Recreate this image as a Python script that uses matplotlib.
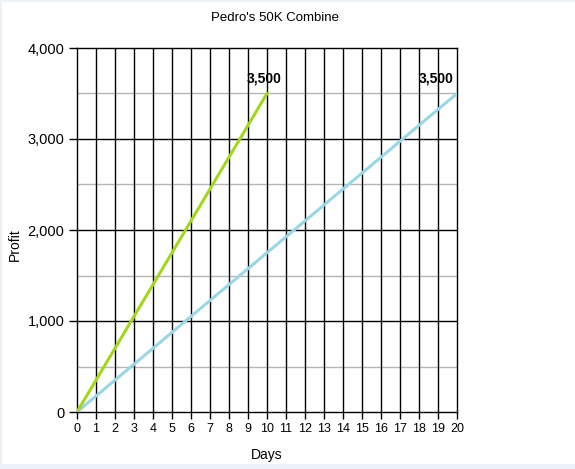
import matplotlib.pyplot as plt
from matplotlib.patches import Rectangle
from matplotlib.ticker import FuncFormatter

plt.rcParams['font.family'] = ['Liberation Sans', 'DejaVu Sans']

fast_days = [0, 1, 2, 3, 4, 5, 6, 7, 8, 9, 10]
fast_profit = [0, 350, 700, 1050, 1400, 1750, 2100, 2450, 2800, 3150, 3500]
slow_days = list(range(0, 21))
slow_profit = [0, 175, 350, 525, 700, 875, 1050, 1225, 1400, 1575, 1750,
               1925, 2100, 2275, 2450, 2625, 2800, 2975, 3150, 3325, 3500]

fig = plt.figure(figsize=(5.75, 4.69), dpi=100)
fig.patch.set_facecolor('#edf2f9')
fig.patches.append(Rectangle((2 / 575, 5 / 469), 1, 1 - 7 / 469,
                             transform=fig.transFigure, facecolor='white',
                             edgecolor='none', zorder=-5))

ax = fig.add_axes([77 / 575, 57 / 469, 380 / 575, 364 / 469])
ax.set_zorder(2)
ax.set_xlim(0, 20)
ax.set_ylim(0, 4000)

for y in [500, 1500, 2500, 3500]:
    ax.axhline(y, color='#b5b5b5', lw=1, zorder=1)
for y in [1000, 2000, 3000]:
    ax.axhline(y, color='black', lw=1, zorder=1)
for x in range(1, 20):
    ax.axvline(x, color='black', lw=1, zorder=1)

ax.plot(slow_days, slow_profit, color='#9bd6e7', lw=2.2, zorder=3)
ax.plot(fast_days, fast_profit, color='#a2d71c', lw=2.2, zorder=4)

ax.annotate('3,500', (fast_days[-1], fast_profit[-1]), xytext=(-2, 6),
            textcoords='offset points', ha='center', va='bottom',
            fontsize=10, fontweight='bold')
ax.annotate('3,500', (slow_days[-1], slow_profit[-1]), xytext=(-15, 6),
            textcoords='offset points', ha='center', va='bottom',
            fontsize=10, fontweight='bold')

for s in ax.spines.values():
    s.set_color('black')
    s.set_linewidth(1)

ax.set_xticks(range(0, 21))
ax.set_yticks([0, 1000, 2000, 3000, 4000])
ax.yaxis.set_major_formatter(FuncFormatter(lambda v, p: f'{int(v):,}'))
ax.tick_params(axis='y', length=6, width=1, labelsize=10.5, pad=3)
ax.tick_params(axis='x', length=5, width=1, labelsize=9, pad=3)

ax.set_xlabel('Days', fontsize=10, labelpad=9)
ax.set_ylabel('Profit', fontsize=10)
ax.yaxis.set_label_coords(-0.145, 0.46)
fig.text(275 / 575, 1 - 18 / 469, "Pedro's 50K Combine", ha='center',
         va='center', fontsize=9.5)

fig.savefig('out.png', dpi=100)
